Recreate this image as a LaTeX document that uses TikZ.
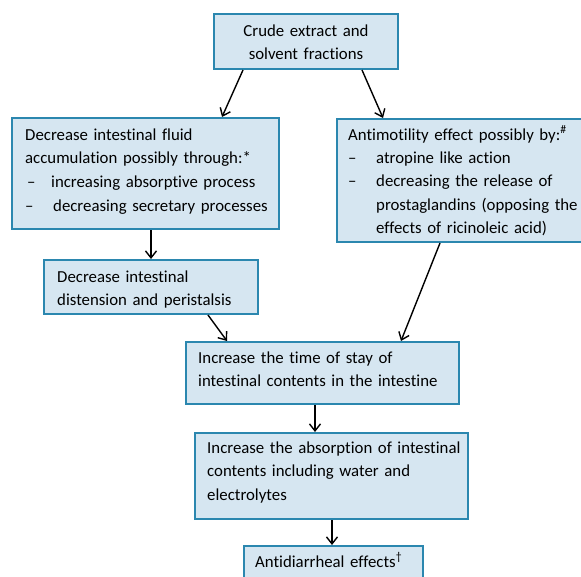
\documentclass[tikz,border=0pt]{standalone}
\usepackage{fontspec}
\setmainfont{Carlito}[Ligatures=NoCommon]
\usetikzlibrary{arrows.meta,calc}
\definecolor{boxfill}{HTML}{D6E6F1}
\definecolor{boxline}{HTML}{2B87AF}
\tikzset{
  fbox/.style={draw=boxline, line width=2pt, fill=boxfill, anchor=north west, inner sep=0pt},
  ftext/.style={anchor=north west, inner sep=0pt, align=left,
    font=\fontsize{16.8}{23.7}\selectfont},
  arr/.style={line width=1.4pt, -{Straight Barb[length=7pt,width=11pt,line width=1.4pt]}}
}
\newcommand{\firstline}{\rule{0pt}{12pt}}
\newcommand{\dashitem}[2]{\makebox[#1][l]{–}#2}
\begin{document}
\begin{tikzpicture}[x=1pt,y=-1pt]
\useasboundingbox (0,0) rectangle (581,576);
\clip (0,0) rectangle (581,576);
% boxes
\node[fbox, minimum width=184pt, minimum height=55pt] (b1) at (213,13) {};
\node[fbox, minimum width=267pt, minimum height=111pt] (b2) at (11,117) {};
\node[fbox, minimum width=254pt, minimum height=123pt] (b3) at (336,118) {};
\node[fbox, minimum width=214pt, minimum height=54pt] (b4) at (43,259) {};
\node[fbox, minimum width=273pt, minimum height=62pt] (b5) at (185,341) {};
\node[fbox, minimum width=273pt, minimum height=86pt] (b6) at (194,432) {};
\node[fbox, minimum width=179pt, minimum height=55pt] (b7) at (243,545) {};
% texts
\node[ftext, anchor=north, align=center, text width=184pt] (t1) at ($(b1.north)+(0,11)$)
  {\firstline Crude extract and\\solvent fractions};
\node[ftext, text width=260pt] (t2) at ($(b2.north west)+(14,11)$)
  {\firstline Decrease intestinal fluid\\accumulation possibly through:*\\
   \hspace*{2pt}\dashitem{24pt}{increasing absorptive process}\\
   \dashitem{28pt}{decreasing secretary processes}};
\node[ftext, text width=250pt, font=\fontsize{16.8}{23.3}\selectfont] (t3) at ($(b3.north west)+(12,10)$)
  {\firstline Antimotility effect possibly by:\smash{\textsuperscript{\#}}\\
   \dashitem{28pt}{atropine like action}\\
   \dashitem{28pt}{decreasing the release of}\\
   \hspace*{28pt}prostaglandins (opposing the\\
   \hspace*{28pt}effects of ricinoleic acid)};
\node[ftext, text width=210pt, font=\fontsize{16.8}{23.2}\selectfont] (t4) at ($(b4.north west)+(14,11)$)
  {\firstline Decrease intestinal\\distension and peristalsis};
\node[ftext, text width=270pt] (t5) at ($(b5.north west)+(13,10)$)
  {\firstline Increase the time of stay of\\intestinal contents in the intestine};
\node[ftext, text width=270pt, font=\fontsize{16.8}{23.5}\selectfont] (t6) at ($(b6.north west)+(13,9)$)
  {\firstline Increase the absorption of intestinal\\contents including water and\\electrolytes};
\node[ftext, text width=175pt] (t7) at ($(b7.north west)+(12,10)$)
  {\firstline Antidiarrheal effects\smash{\textsuperscript{†}}};
% connectors
\draw[arr] ($(b1.south west)+(30,0)$) -- ($(b2.north west)+(211,0)$);
\draw[arr] ($(b1.south west)+(149,0)$) -- ($(b3.north west)+(47,0)$);
\draw[arr] ($(b2.south west)+(140,0)$) -- ($(b4.north west)+(108,0)$);
\draw[arr] ($(b4.south west)+(165,0)$) -- ($(b5.north west)+(42,0)$);
\draw[arr] ($(b3.south west)+(104,0)$) -- ($(b5.north west)+(216,0)$);
\draw[arr] ($(b5.south west)+(130,0)$) -- ($(b6.north west)+(121,0)$);
\draw[arr] ($(b6.south west)+(138,0)$) -- ($(b7.north west)+(89,0)$);
\end{tikzpicture}
\end{document}
